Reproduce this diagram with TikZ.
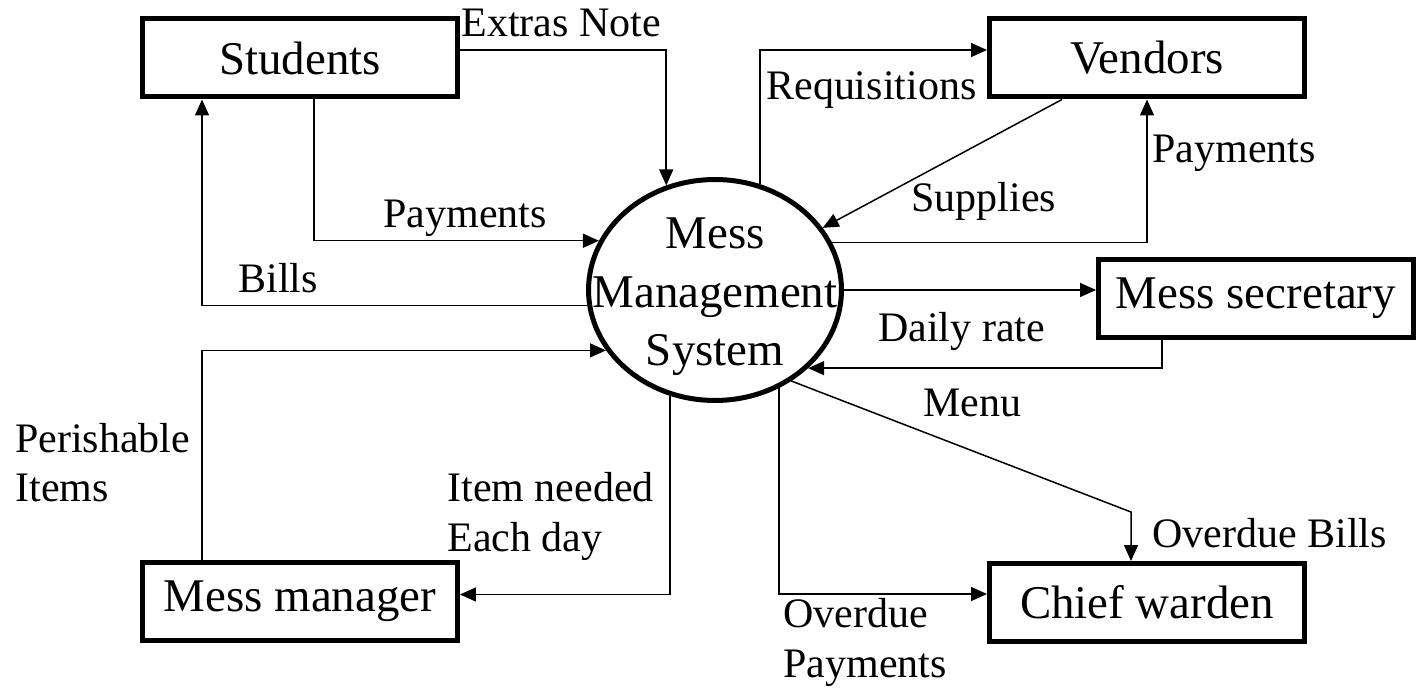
\documentclass[tikz,border=0pt]{standalone}
\usepackage{fontspec}
\setmainfont{Liberation Serif}
\usetikzlibrary{arrows.meta,shapes.geometric}
\newcommand{\boxfont}{\fontsize{26.7}{33.3}\selectfont}
\newcommand{\lblfont}{\fontsize{23.9}{30}\selectfont}
\tikzset{
  entity/.style={draw,line width=0.1cm,minimum width=6.3cm,minimum height=1.56cm,inner sep=0pt,font=\boxfont},
  process/.style={ellipse,draw,line width=0.1cm,minimum width=5.06cm,minimum height=4.42cm,inner sep=0pt},
  flow/.style={-{Triangle[length=0.32cm,width=0.28cm]},line width=0.03cm},
  lbl/.style={font=\lblfont,inner sep=0pt,anchor=base west}
}
\begin{document}
\begin{tikzpicture}[x=0.02cm,y=-0.02cm]
\useasboundingbox (0,0) rectangle (1418,688);
% process and external entities
\node[process] (mms) at (715,290) {};
\node[font=\boxfont,align=center,inner sep=0pt] (mmstext) at (715,297) {Mess\\Management\\System};
\foreach \n/\x/\y/\t in {stu/300/58/Students,ven/1147/58/Vendors,sec/1256/298.5/Mess secretary,mng/300/601.5/Mess manager,cw/1147/602.5/Chief warden}
  \node[entity] (\n) at (\x,\y) {\t};
% data flows
\draw[flow] ([yshift=0.16cm]stu.east) -| (mms.115);
\draw[flow] ([xshift=0.28cm]stu.south) |- (mms.157);
\draw[flow] (mms.187) -| ([xshift=1.24cm]stu.south west);
\draw[flow] ([xshift=1.24cm]mng.north west) |- (mms.209);
\draw[flow] (mms.247) |- ([yshift=0.14cm]mng.east);
\draw[flow] (mms.67) |- ([yshift=0.16cm]ven.west);
\draw[flow] ([xshift=-1.7cm]ven.south) -- (mms.30);
\draw[flow] (mms.22) -| (ven.south);
\draw[flow] (mms.east) -- (mms.east -| sec.west);
\draw[flow] ([xshift=-1.88cm]sec.south) |- (mms.-40);
\draw[flow] (mms.-50) -- ([shift={(-0.32cm,0.98cm)}]cw.north) -- ([xshift=-0.32cm]cw.north);
\draw[flow] (mms.-57) |- ([yshift=0.17cm]cw.west);
% flow labels
\foreach \n/\x/\y/\t in {lextras/461/37/Extras Note,lpaystu/383/228/Payments,lbills/238/293/Bills,
  lreq/766/100/Requisitions,lsupp/911/212/Supplies,lpayven/1152/163/Payments,ldaily/878/342/Daily rate,
  lmenu/923/417/Menu,lobills/1152/548/Overdue Bills,lopay1/783/628/Overdue,lopay2/783/678/Payments,
  litem1/447/502/Item needed,litem2/447/552/Each day,lperish1/15/453/Perishable,lperish2/15/502/Items}
  \node[lbl] (\n) at (\x,\y) {\t};
\end{tikzpicture}
\end{document}
